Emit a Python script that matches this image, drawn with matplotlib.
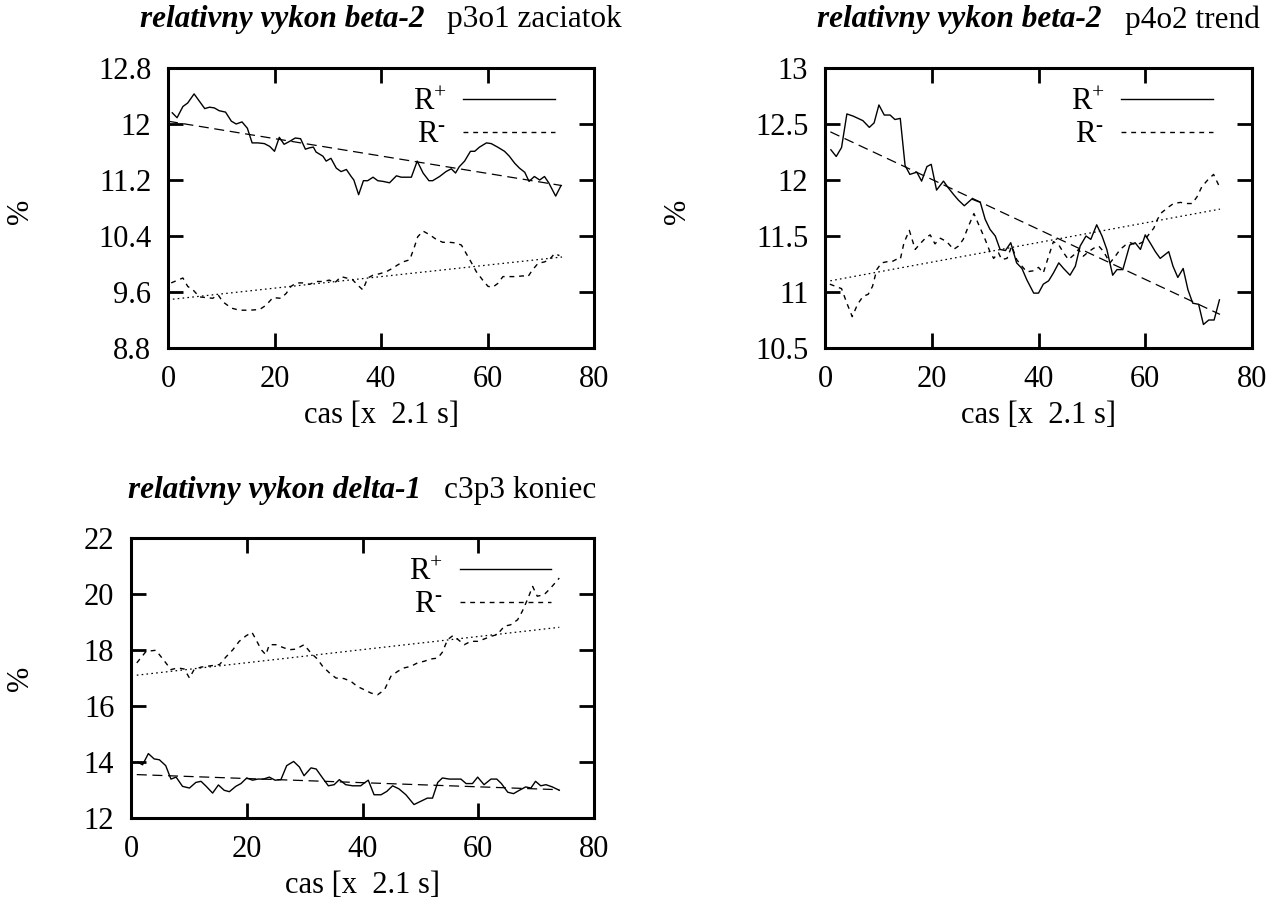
import matplotlib
matplotlib.use("Agg")
import matplotlib.pyplot as plt

plt.rcParams['font.family'] = ['Liberation Serif', 'DejaVu Serif']
plt.rcParams['mathtext.fontset'] = 'custom'
plt.rcParams['mathtext.rm'] = 'Liberation Serif'
plt.rcParams['mathtext.it'] = 'Liberation Serif:italic'

# --- panel 1: beta-2, p3o1 zaciatok ---
p1_rp_t = [0.8, 1.7, 2.8, 3.7, 4.9, 6.9, 7.8, 8.7, 9.6, 10.8,
           11.9, 12.8, 13.9, 14.9, 15.8, 16.9, 18.1, 19.1, 20.0, 20.9,
           21.8, 22.8, 23.9, 24.9, 25.8, 26.6, 27.3, 27.8, 29.1, 29.7,
           30.6, 31.6, 32.5, 33.5, 34.4, 34.9, 35.8, 36.7, 37.5, 38.5,
           39.4, 40.4, 41.6, 42.9, 43.8, 44.7, 45.7, 46.8, 47.9, 49.0,
           49.7, 51.0, 52.2, 53.2, 54.0, 54.7, 55.7, 56.8, 57.6, 58.5,
           59.8, 60.7, 61.9, 63.2, 64.1, 65.1, 66.0, 67.0, 67.8, 68.8,
           69.8, 70.7, 71.5, 72.8, 73.8]
p1_rp_v = [12.16, 12.09, 12.25, 12.30, 12.43, 12.22, 12.24, 12.23, 12.19, 12.17,
           12.04, 12.00, 12.03, 11.94, 11.73, 11.73, 11.72, 11.68, 11.61, 11.81,
           11.71, 11.75, 11.80, 11.79, 11.64, 11.66, 11.67, 11.60, 11.54, 11.47,
           11.51, 11.37, 11.32, 11.35, 11.25, 11.20, 10.99, 11.19, 11.19, 11.24,
           11.19, 11.18, 11.16, 11.26, 11.24, 11.24, 11.24, 11.47, 11.30, 11.19,
           11.19, 11.25, 11.32, 11.36, 11.30, 11.39, 11.47, 11.61, 11.61, 11.67,
           11.73, 11.72, 11.67, 11.61, 11.54, 11.44, 11.37, 11.31, 11.18, 11.25,
           11.20, 11.25, 11.16, 10.97, 11.12]
p1_rm_t = [0.6, 2.8, 3.7, 4.7, 5.9, 7.2, 8.4, 9.4, 10.3, 11.9,
           13.4, 15.3, 17.2, 18.4, 19.7, 21.2, 22.2, 23.1, 24.1, 25.3,
           26.6, 27.8, 29.1, 30.3, 31.3, 32.5, 33.5, 34.6, 35.6, 36.6,
           37.5, 38.5, 39.7, 41.0, 42.2, 43.2, 44.1, 45.4, 46.3, 46.9,
           47.9, 49.1, 50.4, 51.6, 52.9, 54.1, 55.1, 56.0, 56.9, 57.9,
           59.1, 60.1, 61.0, 61.9, 62.9, 64.1, 65.4, 66.6, 67.6, 68.5,
           69.5, 70.7, 71.6, 72.6, 73.5]
p1_rm_v = [9.73, 9.80, 9.68, 9.63, 9.53, 9.52, 9.51, 9.56, 9.46, 9.37,
           9.34, 9.34, 9.35, 9.41, 9.52, 9.51, 9.58, 9.68, 9.73, 9.73,
           9.71, 9.75, 9.75, 9.77, 9.73, 9.82, 9.80, 9.78, 9.70, 9.63,
           9.80, 9.84, 9.86, 9.89, 9.94, 9.99, 10.03, 10.06, 10.25, 10.39,
           10.47, 10.42, 10.35, 10.31, 10.31, 10.30, 10.27, 10.15, 10.03, 9.89,
           9.77, 9.68, 9.67, 9.72, 9.82, 9.82, 9.82, 9.83, 9.82, 9.92,
           10.01, 10.03, 10.06, 10.15, 10.12]
p1_trend_t = [0, 74]
p1_rp_trend = [12.04, 11.12]
p1_rm_trend = [9.49, 10.10]

# --- panel 2: beta-2, p4o2 trend ---
p2_rp_t = [1.1, 2.1, 3.1, 4.1, 5.3, 7.1, 8.3, 9.2, 10.1, 11.1,
           12.2, 13.1, 14.1, 15.0, 15.9, 17.2, 18.1, 19.1, 19.9, 20.9,
           22.2, 23.1, 24.1, 25.0, 26.1, 27.5, 29.1, 30.0, 30.9, 31.9,
           32.8, 33.8, 34.8, 35.9, 36.9, 37.8, 39.1, 40.0, 40.9, 41.9,
           42.8, 43.8, 44.7, 45.9, 46.9, 47.8, 48.9, 49.8, 50.9, 51.9,
           52.8, 53.9, 54.7, 55.8, 57.1, 58.1, 59.1, 60.0, 60.9, 61.9,
           62.8, 64.4, 65.2, 66.1, 67.1, 68.0, 68.9, 70.0, 70.9, 71.9,
           72.9, 73.9]
p2_rp_v = [12.27, 12.21, 12.29, 12.59, 12.57, 12.53, 12.47, 12.51, 12.67, 12.58,
           12.58, 12.54, 12.55, 12.13, 12.05, 12.07, 11.99, 12.12, 12.14, 11.91,
           11.99, 11.93, 11.87, 11.82, 11.77, 11.83, 11.80, 11.65, 11.56, 11.50,
           11.38, 11.37, 11.44, 11.26, 11.21, 11.11, 10.99, 10.99, 11.07, 11.10,
           11.17, 11.26, 11.21, 11.15, 11.23, 11.41, 11.50, 11.47, 11.60, 11.50,
           11.38, 11.15, 11.20, 11.20, 11.42, 11.44, 11.38, 11.51, 11.44, 11.36,
           11.30, 11.36, 11.23, 11.13, 11.21, 11.02, 10.90, 10.89, 10.71, 10.75,
           10.75, 10.93]
p2_rm_t = [0.9, 3.1, 4.1, 5.1, 6.1, 7.1, 8.1, 8.9, 9.7, 10.6,
           11.6, 12.5, 13.3, 14.1, 14.8, 15.8, 16.9, 17.8, 18.8, 19.7,
           20.6, 21.6, 22.8, 24.1, 25.0, 25.9, 26.9, 27.9, 28.9, 30.0,
           30.9, 31.6, 32.5, 33.1, 34.1, 35.0, 35.9, 36.9, 37.8, 39.1,
           40.0, 40.9, 41.9, 42.8, 43.8, 44.7, 45.6, 46.6, 47.5, 48.4,
           49.4, 50.3, 51.3, 52.2, 53.4, 54.4, 55.3, 56.3, 57.2, 58.4,
           59.7, 60.6, 61.6, 62.3, 63.1, 64.4, 65.3, 66.6, 67.8, 68.8,
           69.7, 70.6, 71.7, 72.8, 73.9]
p2_rm_v = [11.07, 11.03, 10.90, 10.78, 10.89, 10.96, 10.98, 11.05, 11.20, 11.26,
           11.27, 11.27, 11.29, 11.29, 11.44, 11.55, 11.38, 11.43, 11.48, 11.51,
           11.43, 11.48, 11.45, 11.38, 11.41, 11.47, 11.59, 11.70, 11.59, 11.47,
           11.36, 11.30, 11.35, 11.29, 11.30, 11.41, 11.29, 11.23, 11.18, 11.19,
           11.22, 11.17, 11.32, 11.45, 11.42, 11.35, 11.29, 11.33, 11.38, 11.32,
           11.36, 11.39, 11.41, 11.36, 11.26, 11.32, 11.38, 11.42, 11.44, 11.42,
           11.45, 11.51, 11.57, 11.65, 11.71, 11.76, 11.79, 11.80, 11.79, 11.79,
           11.85, 11.94, 12.00, 12.05, 11.94]
p2_trend_t = [1, 74]
p2_rp_trend = [12.43, 10.80]
p2_rm_trend = [11.10, 11.74]

# --- panel 3: delta-1, c3p3 koniec ---
p3_rp_t = [1.2, 2.0, 3.0, 4.0, 4.9, 6.0, 6.9, 7.8, 8.9, 10.1,
           11.2, 12.1, 13.0, 14.1, 15.1, 16.1, 17.0, 18.1, 19.0, 20.0,
           21.0, 21.9, 22.9, 23.9, 24.9, 25.9, 26.9, 28.1, 29.1, 29.9,
           31.1, 32.0, 33.1, 34.1, 35.1, 36.0, 37.1, 38.3, 39.7, 40.3,
           41.0, 42.0, 43.2, 44.2, 45.2, 46.3, 47.5, 48.9, 50.1, 51.2,
           52.1, 53.0, 53.8, 55.0, 55.8, 57.0, 57.9, 59.0, 59.9, 61.0,
           62.2, 63.2, 64.0, 65.1, 66.1, 67.1, 68.2, 69.1, 69.9, 70.8,
           71.7, 72.8, 74.0]
p3_rp_v = [13.99, 13.90, 14.30, 14.11, 14.08, 13.87, 13.39, 13.46, 13.13, 13.07,
           13.27, 13.31, 13.13, 12.89, 13.18, 12.99, 12.94, 13.13, 13.23, 13.43,
           13.35, 13.39, 13.39, 13.46, 13.35, 13.37, 13.87, 14.02, 13.82, 13.51,
           13.79, 13.75, 13.43, 13.15, 13.19, 13.37, 13.19, 13.15, 13.15, 13.25,
           13.35, 12.83, 12.83, 12.95, 13.15, 13.04, 12.83, 12.48, 12.60, 12.71,
           12.71, 13.27, 13.43, 13.39, 13.39, 13.39, 13.23, 13.23, 13.46, 13.19,
           13.39, 13.39, 13.23, 12.92, 12.87, 12.99, 13.11, 13.07, 13.31, 13.15,
           13.19, 13.11, 12.99]
p3_rm_t = [1.0, 2.6, 4.3, 5.8, 6.9, 8.1, 9.2, 10.1, 10.9, 12.1,
           13.2, 15.3, 16.4, 17.6, 18.7, 19.9, 20.9, 21.6, 22.5, 23.3,
           23.9, 25.0, 27.3, 28.5, 29.9, 31.1, 32.2, 33.1, 34.3, 35.4,
           36.8, 38.0, 39.1, 40.3, 41.5, 42.6, 43.8, 44.9, 46.1, 47.2,
           48.4, 49.5, 50.7, 51.8, 53.0, 53.8, 54.7, 55.6, 56.4, 57.6,
           58.7, 59.9, 61.0, 62.2, 63.3, 64.5, 65.6, 66.8, 67.6, 68.5,
           69.4, 70.2, 71.4, 72.5, 74.0]
p3_rm_v = [17.54, 17.95, 17.99, 17.60, 17.30, 17.36, 17.32, 17.00, 17.30, 17.39,
           17.42, 17.48, 17.75, 18.01, 18.31, 18.51, 18.63, 18.37, 18.01, 17.83,
           18.19, 18.19, 18.01, 18.03, 18.19, 17.89, 17.68, 17.42, 17.18, 17.00,
           16.98, 16.88, 16.70, 16.58, 16.46, 16.40, 16.58, 17.06, 17.24, 17.36,
           17.42, 17.54, 17.60, 17.68, 17.71, 17.92, 18.37, 18.51, 18.39, 18.19,
           18.31, 18.31, 18.39, 18.49, 18.55, 18.85, 18.90, 19.08, 19.38, 19.80,
           20.27, 19.92, 19.98, 20.21, 20.57]
p3_trend_t = [1, 74]
p3_rp_trend = [13.55, 13.01]
p3_rm_trend = [17.10, 18.81]

x_ticks = [0, 20, 40, 60, 80]
p1_yticks = [8.8, 9.6, 10.4, 11.2, 12.0, 12.8]
p1_ylabels = ['8.8', '9.6', '10.4', '11.2', '12', '12.8']
p2_yticks = [10.5, 11.0, 11.5, 12.0, 12.5, 13.0]
p2_ylabels = ['10.5', '11', '11.5', '12', '12.5', '13']
p3_yticks = [12, 14, 16, 18, 20, 22]
p3_ylabels = ['12', '14', '16', '18', '20', '22']

FS = 22
TFS = 22.5
W, H = 1284, 913

fig = plt.figure(figsize=(W / 100, H / 100), dpi=100)
renderer = fig.canvas.get_renderer()


def px_axes(left, top, right, bottom):
    return fig.add_axes([left / W, 1 - bottom / H, (right - left) / W, (bottom - top) / H])


def panel(ax, rp_t, rp_v, rm_t, rm_v, tr_t, rp_tr, rm_tr, yticks, ylabels):
    ax.plot(rp_t, rp_v, color='black', lw=1.0, label='R$^{+}$')
    ax.plot(rm_t, rm_v, color='black', lw=1.0, dashes=(3.5, 3.5), label=r'R$^{\text{-}}$')
    ax.plot(tr_t, rp_tr, color='black', lw=0.9, dashes=(8, 4.5))
    ax.plot(tr_t, rm_tr, color='black', lw=0.9, dashes=(1.3, 2.6))
    ax.set_xlim(0, 80)
    ax.set_ylim(yticks[0], yticks[-1])
    ax.set_xticks(x_ticks)
    ax.set_yticks(yticks)
    ax.set_yticklabels(ylabels)
    ax.tick_params(direction='in', length=11, width=2, top=True, right=True,
                   labelsize=FS, pad=12)
    for s in ax.spines.values():
        s.set_linewidth(2.2)
    ax.set_xlabel('cas [x  2.1 s]', fontsize=FS, labelpad=5)
    ax.legend(loc='upper right', bbox_to_anchor=(0.908, 0.93), frameon=False,
              markerfirst=False, fontsize=FS, handlelength=3.0,
              labelspacing=0.12, handletextpad=0.55, borderaxespad=0, borderpad=0)


def title(ax, y, bold, rest, gap=23):
    tb = fig.text(0, 1 - y / H, bold, fontsize=TFS, fontweight='bold',
                  fontstyle='italic', ha='left', va='center')
    tn = fig.text(0, 1 - y / H, rest, fontsize=TFS, ha='left', va='center')
    wb = tb.get_window_extent(renderer).width
    wn = tn.get_window_extent(renderer).width
    pos = ax.get_position()
    cx = (pos.x0 + pos.x1) / 2 * W
    x0 = cx - (wb + gap + wn) / 2
    tb.set_x(x0 / W)
    tn.set_x((x0 + wb + gap) / W)


ax1 = px_axes(168, 68, 594, 348)
panel(ax1, p1_rp_t, p1_rp_v, p1_rm_t, p1_rm_v, p1_trend_t, p1_rp_trend, p1_rm_trend,
      p1_yticks, p1_ylabels)
title(ax1, 20, 'relativny vykon beta-2', 'p3o1 zaciatok')
fig.text(21 / W, 1 - 211 / H, '%', fontsize=FS, rotation=90, ha='center', va='center')

ax2 = px_axes(825, 68, 1252, 348)
panel(ax2, p2_rp_t, p2_rp_v, p2_rm_t, p2_rm_v, p2_trend_t, p2_rp_trend, p2_rm_trend,
      p2_yticks, p2_ylabels)
title(ax2, 20, 'relativny vykon beta-2', 'p4o2 trend')
fig.text(678 / W, 1 - 211 / H, '%', fontsize=FS, rotation=90, ha='center', va='center')

ax3 = px_axes(131, 538, 594, 818)
panel(ax3, p3_rp_t, p3_rp_v, p3_rm_t, p3_rm_v, p3_trend_t, p3_rp_trend, p3_rm_trend,
      p3_yticks, p3_ylabels)
title(ax3, 490, 'relativny vykon delta-1', 'c3p3 koniec')
fig.text(21 / W, 1 - 678 / H, '%', fontsize=FS, rotation=90, ha='center', va='center')

fig.savefig('out.png', dpi=100)
